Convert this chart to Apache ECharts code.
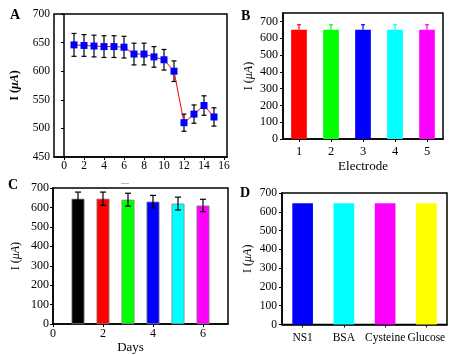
<!DOCTYPE html>
<html><head><meta charset="utf-8">
<script src="https://cdn.jsdelivr.net/npm/echarts@6/dist/echarts.min.js"></script>
<style>html,body{margin:0;padding:0;background:#fff}#c{width:455px;height:355px}</style>
</head><body><div id="c"></div>
<script>
// Panel A
const aDays = [1,2,3,4,5,6,7,8,9,10,11,12,13,14,15];
const aValues = [646,645,644,643,643,642,630,630,625,620,600,510,525,540,520];
const aErrors = [20,19,19,19,19,19,19,19,18,18,18,15,16,17,16];
const aXTicks = [0,2,4,6,8,10,12,14,16];
// Panel B
const bElectrodes = ['1','2','3','4','5'];
const bValues = [650,650,650,650,650];
const bErrors = [30,30,30,30,30];
const bColors = ['#ff0000','#00ff00','#0000ff','#00ffff','#ff00ff'];
// Panel C
const cDays = [1,2,3,4,5,6];
const cValues = [645,645,640,630,620,610];
const cErrors = [34,34,33,32,33,32];
const cColors = ['#000000','#ff0000','#00ff00','#0000ff','#00ffff','#ff00ff'];
const cXTicks = [0,2,4,6];
// Panel D
const dSamples = ['NS1','BSA','Cysteine','Glucose'];
const dValues = [645,645,645,645];
const dColors = ['#0000ff','#00ffff','#ff00ff','#ffff00'];

const FONT = '"Liberation Serif","Times New Roman",serif';
const chart = echarts.init(document.getElementById('c'), null, {renderer:'canvas'});

function errRender(capHalf, lw, colors, upperOnly){
  return function(params, api){
    const x = api.value(0), lo = api.value(1), hi = api.value(2);
    const pHi = api.coord([x, hi]), pLo = api.coord([x, lo]);
    const color = colors ? colors[params.dataIndex] : '#000';
    const style = {stroke: color, lineWidth: lw};
    const ch = [
      {type:'line', shape:{x1:pHi[0],y1:pHi[1],x2:pLo[0],y2:pLo[1]}, style},
      {type:'line', shape:{x1:pHi[0]-capHalf,y1:pHi[1],x2:pHi[0]+capHalf,y2:pHi[1]}, style}
    ];
    if(!upperOnly) ch.push({type:'line', shape:{x1:pLo[0]-capHalf,y1:pLo[1],x2:pLo[0]+capHalf,y2:pLo[1]}, style});
    return {type:'group', children: ch};
  };
}

const axisLine = {show:true, lineStyle:{color:'#000', width:1.5}};
const tick = {show:true, inside:false, length:3, lineStyle:{color:'#000'}};
const lbl = (fs)=>({color:'#000', fontFamily:FONT, fontSize:fs});
const nameStyle = (bold)=>({color:'#000', fontFamily:FONT, fontSize:12, fontWeight: bold?'bold':'normal',
  rich:{i:{fontStyle:'italic', fontFamily:FONT, fontSize:12, fontWeight: bold?'bold':'normal', color:'#000'}}});
const gridStyle = {show:true, borderColor:'#000', borderWidth:1.5, backgroundColor:'transparent'};

const option = {
  animation:false,
  backgroundColor:'#fff',
  grid:[
    Object.assign({left:54, top:14, width:173, height:143}, gridStyle),
    Object.assign({left:283, top:13, width:160, height:126}, gridStyle),
    Object.assign({left:53, top:188, width:175, height:136.5}, gridStyle),
    Object.assign({left:282, top:193, width:165, height:131.5}, gridStyle)
  ],
  xAxis:[
    {gridIndex:0, type:'value', min:-1, max:16.3, axisLine, splitLine:{show:false},
     axisTick:Object.assign({customValues:aXTicks}, tick),
     axisLabel:Object.assign({customValues:aXTicks, margin:3}, lbl(11.5))},
    {gridIndex:1, type:'category', data:bElectrodes, axisLine, splitLine:{show:false},
     axisTick:Object.assign({alignWithLabel:true}, tick),
     axisLabel:Object.assign({margin:6}, lbl(12.5)),
     name:'Electrode', nameLocation:'middle', nameGap:21, nameTextStyle:{color:'#000', fontFamily:FONT, fontSize:13}},
    {gridIndex:2, type:'value', min:0, max:7, axisLine, splitLine:{show:false},
     axisTick:Object.assign({customValues:cXTicks}, tick),
     axisLabel:Object.assign({customValues:cXTicks, margin:4}, lbl(12)),
     name:'Days', nameLocation:'middle', nameGap:12, nameTextStyle:{color:'#000', fontFamily:FONT, fontSize:13, padding:[0,20,0,0]}},
    {gridIndex:3, type:'category', data:dSamples, axisLine, splitLine:{show:false},
     axisTick:Object.assign({alignWithLabel:true}, tick),
     axisLabel:Object.assign({margin:7, interval:0}, lbl(11.5))}
  ],
  yAxis:[
    {gridIndex:0, type:'value', min:450, max:700, interval:50, axisLine, axisTick:tick, splitLine:{show:false},
     axisLabel:Object.assign({margin:4}, lbl(11.5)),
     name:'I ({i|μA})', nameLocation:'middle', nameGap:33, nameTextStyle:nameStyle(true)},
    {gridIndex:1, type:'value', min:0, max:750, interval:100, axisLine, axisTick:tick, splitLine:{show:false},
     axisLabel:Object.assign({margin:5, showMaxLabel:false}, lbl(12)),
     name:'I ({i|μA})', nameLocation:'middle', nameGap:28, nameTextStyle:nameStyle(false)},
    {gridIndex:2, type:'value', min:0, max:700, interval:100, axisLine, axisTick:tick, splitLine:{show:false},
     axisLabel:Object.assign({margin:4}, lbl(12)),
     name:'I ({i|μA})', nameLocation:'middle', nameGap:31, nameTextStyle:nameStyle(false)},
    {gridIndex:3, type:'value', min:0, max:700, interval:100, axisLine, axisTick:tick, splitLine:{show:false},
     axisLabel:Object.assign({margin:5}, lbl(11.5)),
     name:'I ({i|μA})', nameLocation:'middle', nameGap:28, nameTextStyle:nameStyle(false)}
  ],
  series:[
    {type:'custom', xAxisIndex:0, yAxisIndex:0, z:2,
     renderItem: errRender(2.5, 1.2, null, false),
     data: aDays.map((d,i)=>[d, aValues[i]-aErrors[i], aValues[i]+aErrors[i]])},
    {type:'line', xAxisIndex:0, yAxisIndex:0, z:3,
     data: aDays.map((d,i)=>[d, aValues[i]]),
     symbol:'rect', symbolSize:7, itemStyle:{color:'#0000ff'},
     lineStyle:{color:'#ff0000', width:1}},
    {type:'bar', xAxisIndex:1, yAxisIndex:1, barWidth:'49%',
     data: bValues.map((v,i)=>({value:v, itemStyle:{color:bColors[i]}}))},
    {type:'custom', xAxisIndex:1, yAxisIndex:1, z:3,
     renderItem: errRender(2, 1.2, bColors, true),
     data: bValues.map((v,i)=>[i, v, v+bErrors[i]])},
    {type:'bar', xAxisIndex:2, yAxisIndex:2, barWidth:13,
     data: cDays.map((d,i)=>({value:[d, cValues[i]], itemStyle:{color:cColors[i], borderColor:'#888', borderWidth:0.8}}))},
    {type:'custom', xAxisIndex:2, yAxisIndex:2, z:3,
     renderItem: errRender(3, 1.2, null, false),
     data: cDays.map((d,i)=>[d, cValues[i]-cErrors[i], cValues[i]+cErrors[i]])},
    {type:'bar', xAxisIndex:3, yAxisIndex:3, barWidth:'50%',
     data: dValues.map((v,i)=>({value:v, itemStyle:{color:dColors[i]}}))}
  ],
  graphic:[
    {type:'text', left:10, top:8, style:{text:'A', font:'bold 14px '+FONT, fill:'#000'}},
    {type:'text', left:241, top:9, style:{text:'B', font:'bold 14px '+FONT, fill:'#000'}},
    {type:'text', left:8, top:178, style:{text:'C', font:'bold 14px '+FONT, fill:'#000'}},
    {type:'text', left:240, top:186, style:{text:'D', font:'bold 14px '+FONT, fill:'#000'}},
    {type:'rect', left:121, top:183, shape:{width:8, height:1}, style:{fill:'#bbb'}}
  ]
};
chart.setOption(option);
</script>
</body></html>
